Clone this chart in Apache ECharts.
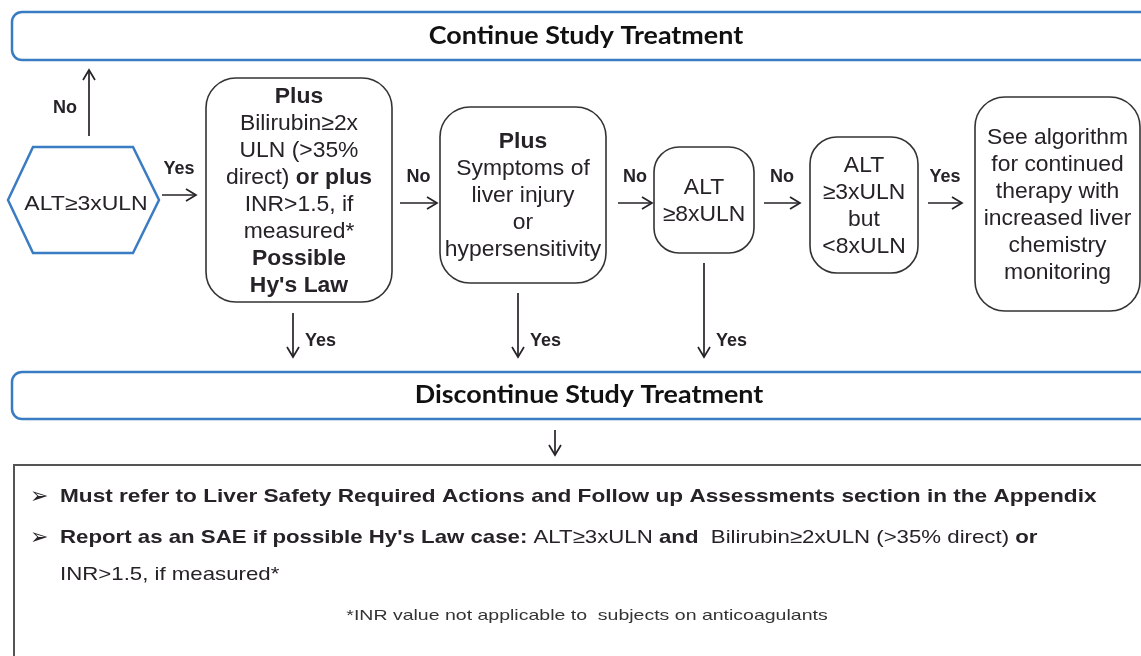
<!DOCTYPE html>
<html>
<head>
<meta charset="utf-8">
<script src="https://cdn.jsdelivr.net/npm/echarts/dist/echarts.min.js"></script>
<style>
  html, body { margin: 0; padding: 0; background: #fff; }
  #main { width: 1141px; height: 656px; }
</style>
</head>
<body>
<div id="main"></div>
<script>
// texts of the flow chart ({b|...} = bold part)
const headerText = ['Continue Study Treatment', 'Discontinue Study Treatment'];
const startText = 'ALT≥3xULN';
const stepLines = [
  ['{b|Plus}', 'Bilirubin≥2x', 'ULN (>35%', 'direct) {b|or plus}', 'INR>1.5, if', 'measured*', '{b|Possible}', "{b|Hy's Law}"],
  ['{b|Plus}', 'Symptoms of', 'liver injury', 'or', 'hypersensitivity'],
  ['ALT', '≥8xULN'],
  ['ALT', '≥3xULN', 'but', '<8xULN'],
  ['See algorithm', 'for continued', 'therapy with', 'increased liver', 'chemistry', 'monitoring']
];
const flowLabels = ['Yes', 'No', 'No', 'No', 'Yes'];   // arrows going right into each step
const startNoLabel = 'No';
const downLabels = ['Yes', 'Yes', 'Yes'];                 // arrows down from step 1..3
const noteLines = [
  '{b|Must refer to Liver Safety Required Actions and Follow up Assessments section in the Appendix}',
  "{b|Report as an SAE if possible Hy's Law case:} ALT≥3xULN {b|and}  Bilirubin≥2xULN (>35% direct) {b|or}",
  'INR>1.5, if measured*'
];
const footNote = '*INR value not applicable to  subjects on anticoagulants';

// layout
const BLUE = '#3a7cc2';
const INK = '#262228';
const SANS = '"Liberation Sans", Arial, sans-serif';
const boxes = [[206, 78, 186, 224], [440, 107, 166, 176], [654, 147, 100, 106], [810, 137, 108, 136], [975, 97, 165, 214]];
const rightArrows = [[162, 196, 195], [400, 437, 203], [618, 652, 203], [764, 800, 203], [928, 962, 203]];
const downArrows = [[293, 313, 357], [518, 293, 357], [704, 263, 357]];
const noteRows = [[497, 1.19], [538, 1.17], [575, 1.17]];

const g = [];

function arrow(x1, y1, x2, y2) {
  g.push({ type: 'line', shape: { x1: x1, y1: y1, x2: x2, y2: y2 }, style: { stroke: INK, lineWidth: 1.7 } });
  const a = Math.atan2(y2 - y1, x2 - x1), L = 10, W = 6;
  const bx = x2 - L * Math.cos(a), by = y2 - L * Math.sin(a);
  const nx = -Math.sin(a) * W, ny = Math.cos(a) * W;
  g.push({ type: 'polyline', shape: { points: [[bx + nx, by + ny], [x2, y2], [bx - nx, by - ny]] },
    style: { stroke: INK, lineWidth: 1.7, fill: null } });
}
function label(x, y, text, align) {
  g.push({ type: 'text', x: x, y: y, style: { text: text, font: 'bold 18px ' + SANS, fill: INK, align: align || 'center', verticalAlign: 'middle' } });
}

// header boxes
[[12, 48], [372, 47]].forEach(function (b, i) {
  g.push({ type: 'rect', shape: { x: 12, y: b[0], width: 1150, height: b[1], r: 10 },
    style: { fill: '#fff', stroke: BLUE, lineWidth: 2.5 } });
  g.push({ type: 'text', x: i === 0 ? 586 : 589, y: b[0] + b[1] / 2, scaleX: 1.12,
    style: { text: headerText[i], font: 'bold 24px Lato, "Open Sans", sans-serif', fill: '#111', align: 'center', verticalAlign: 'middle' } });
});

// start hexagon
g.push({ type: 'polygon', shape: { points: [[8, 200], [33, 147], [133, 147], [159, 200], [133, 253], [33, 253]] },
  style: { fill: '#fff', stroke: BLUE, lineWidth: 2.5 } });
g.push({ type: 'text', x: 86, y: 204, scaleX: 1.15, style: { text: startText, font: '20px ' + SANS, fill: INK, align: 'center', verticalAlign: 'middle' } });
arrow(89, 136, 89, 70);
label(65, 108, startNoLabel);

// step boxes
boxes.forEach(function (b, i) {
  g.push({ type: 'rect', shape: { x: b[0], y: b[1], width: b[2], height: b[3], r: Math.min(30, b[2] / 4) },
    style: { fill: '#fff', stroke: '#333', lineWidth: 1.6 } });
  g.push({ type: 'text', x: b[0] + b[2] / 2, y: b[1] + b[3] / 2 + 1, scaleX: 1.04,
    style: { text: stepLines[i].join('\n'), font: '22px ' + SANS, fill: INK, align: 'center', verticalAlign: 'middle', lineHeight: 27,
      rich: { b: { fontWeight: 'bold', fontSize: 22, fontFamily: SANS, lineHeight: 27, fill: INK } } } });
  const ra = rightArrows[i];
  arrow(ra[0], ra[2], ra[1], ra[2]);
  label((ra[0] + ra[1]) / 2, ra[2] - 26, flowLabels[i]);
});

// down arrows into "Discontinue"
downArrows.forEach(function (d, i) {
  arrow(d[0], d[1], d[0], d[2]);
  label(d[0] + 12, 341, downLabels[i], 'left');
});
arrow(555, 430, 555, 455);

// notes box
g.push({ type: 'rect', shape: { x: 14, y: 465, width: 1150, height: 220 }, style: { fill: '#fff', stroke: '#555', lineWidth: 2 } });
[497, 538].forEach(function (y) {
  g.push({ type: 'text', x: 30, y: y, style: { text: '➢', font: 'bold 22px "DejaVu Sans", sans-serif', fill: INK, align: 'left', verticalAlign: 'middle' } });
});
noteRows.forEach(function (r, i) {
  g.push({ type: 'text', x: 60, y: r[0], scaleX: r[1],
    style: { text: noteLines[i], font: '19px ' + SANS, fill: INK, align: 'left', verticalAlign: 'middle',
      rich: { b: { fontWeight: 'bold', fontSize: 19, fontFamily: SANS, fill: INK } } } });
});
g.push({ type: 'text', x: 587, y: 616, scaleX: 1.3, style: { text: footNote, font: '15px ' + SANS, fill: '#333', align: 'center', verticalAlign: 'middle' } });

const chart = echarts.init(document.getElementById('main'));
chart.setOption({ backgroundColor: '#fff', animation: false, graphic: g });
</script>
</body>
</html>
